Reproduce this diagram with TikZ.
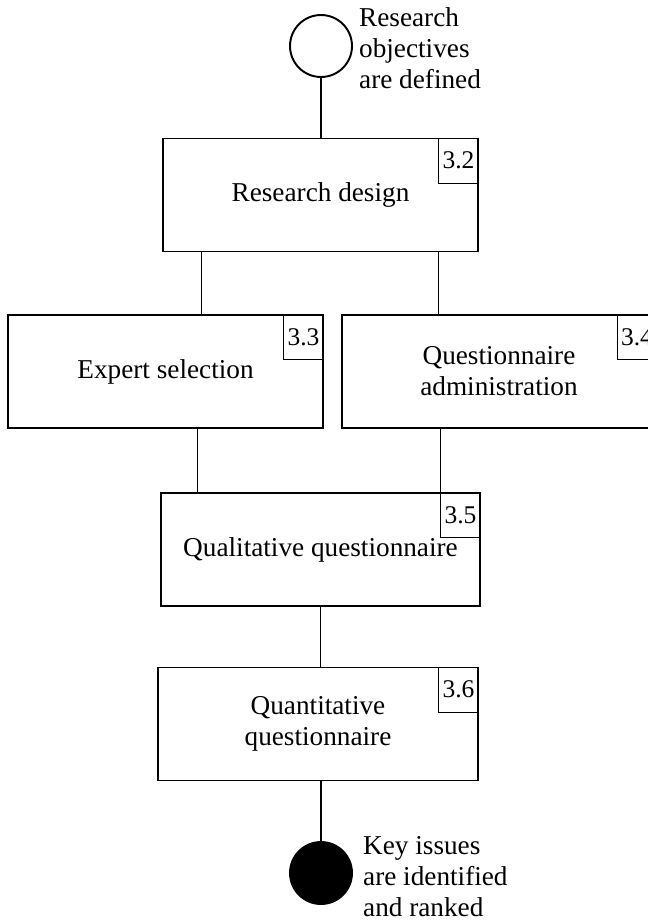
\documentclass[tikz,border=0pt]{standalone}
\usepackage{fontspec}
\setmainfont{Liberation Serif}
\usetikzlibrary{positioning}

\tikzset{
	process/.style={shape=rectangle, draw, line width=1.1pt, minimum width=6.3cm, minimum height=2.26cm, align=center, inner sep=2pt},
	tag/.style={shape=rectangle, draw, line width=0.5pt, minimum width=0.8cm, minimum height=0.9cm, inner sep=1pt, anchor=north east, font=\fontsize{14.5pt}{16pt}\selectfont},
	event/.style={shape=circle, draw, line width=1.1pt, minimum size=1.24cm, inner sep=0pt},
	link/.style={line width=0.6pt}
}

\begin{document}
\begin{tikzpicture}[x=0.02cm, y=-0.02cm, font=\fontsize{15.5pt}{17.6pt}\selectfont]
	\useasboundingbox (0,0) rectangle (648,920);
	\clip (0,0) rectangle (648,920);
	\path (321,46) node (start) [event] {}
		  (320.5,195) node (design) [process] {Research design}
		  (165.5,371.5) node (experts) [process] {Expert selection}
		  (499,371.5) node (admin) [process] {Questionnaire\\administration}
		  (320.5,549.5) node (qual) [process, minimum width=6.38cm] {Qualitative questionnaire}
		  (318,724) node (quant) [process, minimum width=6.4cm] {Quantitative\\questionnaire}
		  (321,873) node (stop) [event, fill=black] {};
	\node (startnote) [right=0pt of start, align=left, yshift=-0.04cm] {Research\\objectives\\are defined};
	\node (stopnote) [right=0.08cm of stop, align=left, yshift=-0.07cm] {Key issues\\are identified\\and ranked};
	\node (t32) [tag] at (design.north east) {3.2};
	\node (t33) [tag] at (experts.north east) {3.3};
	\node (t34) [tag] at (admin.north east) {3.4};
	\node (t35) [tag] at (qual.north east) {3.5};
	\node (t36) [tag] at (quant.north east) {3.6};
	\draw[link] (start.south) -- (start.south |- design.north);
	\draw[link] ([xshift=0.78cm]design.south west) -- ([xshift=0.78cm]design.south west |- experts.north);
	\draw[link] (t32.west |- design.south) -- (t32.west |- admin.north);
	\draw[link] ([xshift=0.74cm]qual.north west |- experts.south) -- ([xshift=0.74cm]qual.north west);
	\draw[link] (t35.west |- admin.south) -- (t35.north west);
	\draw[link] (qual.south) -- (qual.south |- quant.north);
	\draw[link] (quant.south -| stop.north) -- (stop.north);
\end{tikzpicture}
\end{document}
